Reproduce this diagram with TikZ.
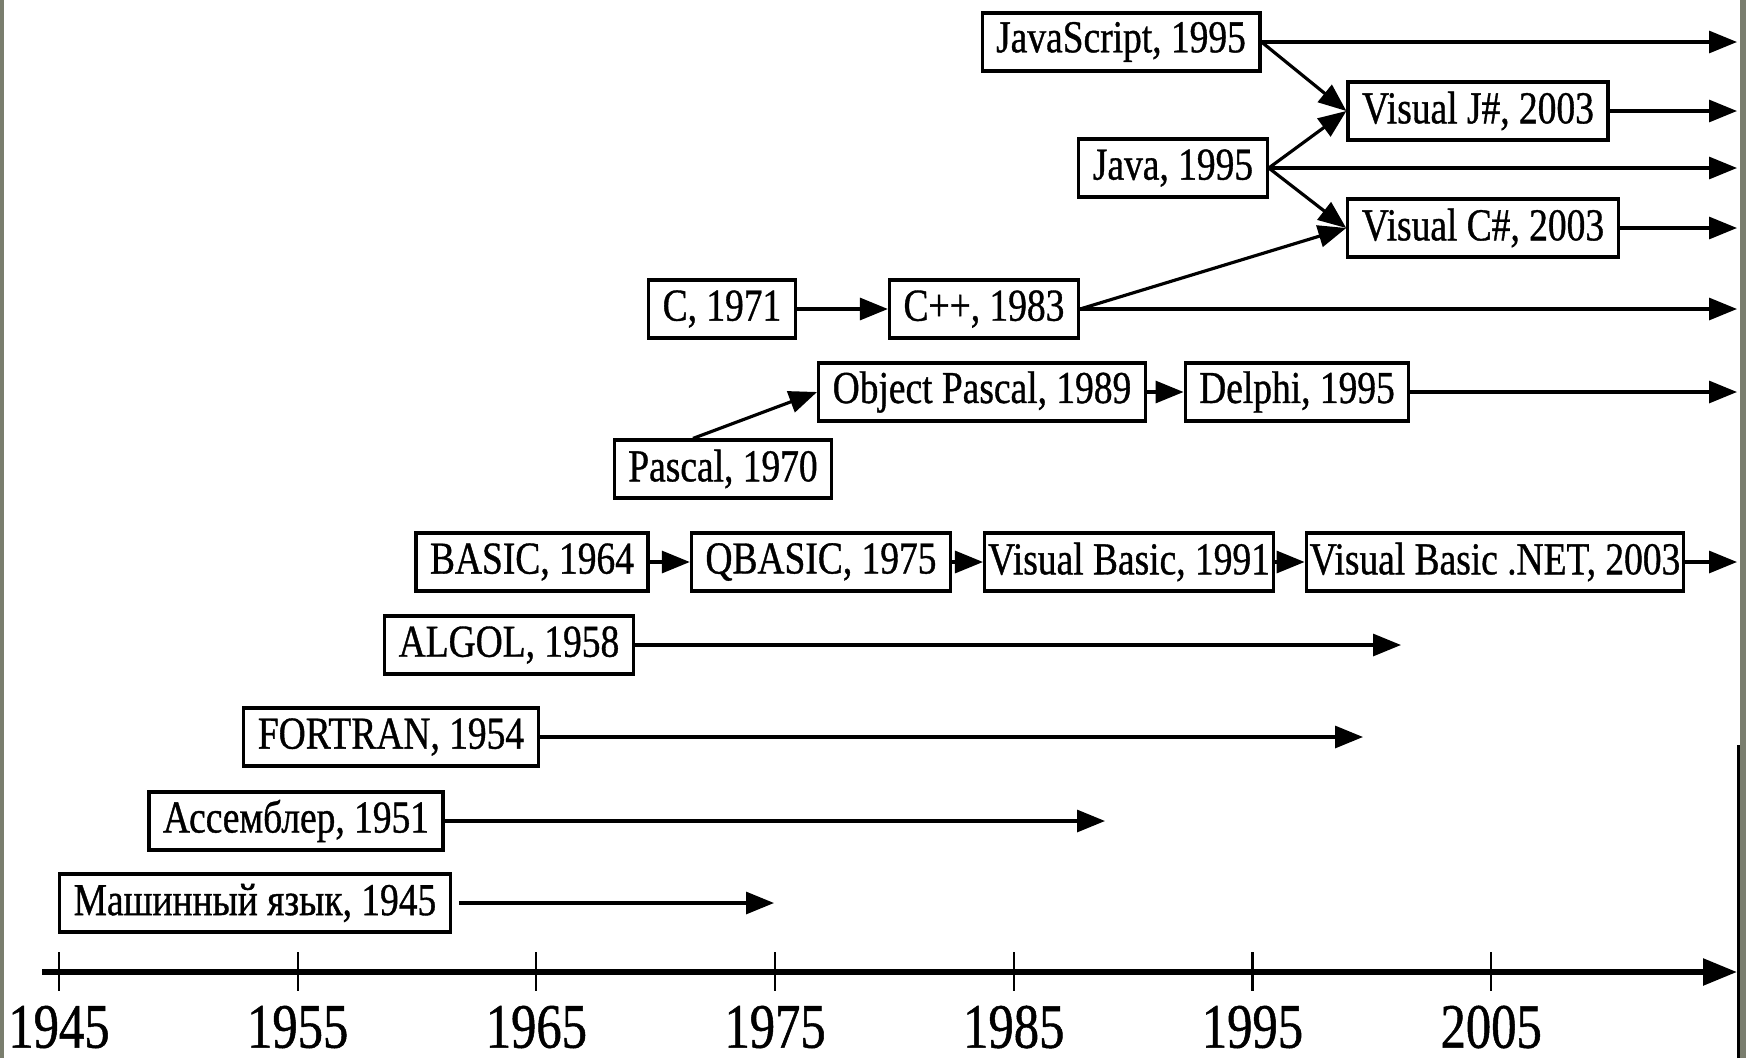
\documentclass[tikz,border=0pt]{standalone}
\usepackage{fontspec}
\setmainfont{Liberation Serif}
\newfontfamily\langfont{Liberation Serif}[FakeStretch=0.82, FakeBold=0.8]
\newfontfamily\yearfont{Liberation Serif}[FakeStretch=0.8, FakeBold=0.8]
\usetikzlibrary{arrows.meta}
\definecolor{scanedge}{RGB}{122, 126, 110}

\begin{document}
\begin{tikzpicture}[
    lang/.style={draw, line width=0.9pt, minimum height=0.58cm, inner xsep=4pt, inner ysep=1pt,
                 font=\langfont\fontsize{13}{15}\selectfont},
    link/.style={line width=0.9pt, -{Triangle[length=0.28cm, width=0.22cm]}},
    axisline/.style={line width=1.6pt, -{Triangle[length=0.34cm, width=0.26cm]}},
    tick/.style={line width=0.6pt},
    yearlbl/.style={font=\yearfont\fontsize{18}{20}\selectfont, inner sep=0pt}
  ]
  \useasboundingbox (0,0) rectangle (17.46,10.58);
  % scan edges
  \fill[scanedge] (0,0) rectangle (0.04,10.58);
  \fill[scanedge] (17.40,0) rectangle (17.46,10.58);
  \draw[line width=0.8pt] (17.385,0) -- (17.385,3.13);

  % right rim where the running lines end
  \coordinate (rim) at (17.37,0);

  % Languages
  \node[lang] (js)      at (11.21, 10.16) {JavaScript, 1995};
  \node[lang] (vj)      at (14.78, 9.47)  {Visual J\#, 2003};
  \node[lang] (java)    at (11.73, 8.90)  {Java, 1995};
  \node[lang] (vc)      at (14.83, 8.30)  {Visual C\#, 2003};
  \node[lang] (c)       at (7.22, 7.49)   {C, 1971};
  \node[lang] (cpp)     at (9.84, 7.49)   {C++, 1983};
  \node[lang] (opascal) at (9.82, 6.66)   {Object Pascal, 1989};
  \node[lang] (delphi)  at (12.97, 6.66)  {Delphi, 1995};
  \node[lang] (pascal)  at (7.23, 5.89)   {Pascal, 1970};
  \node[lang] (basic)   at (5.32, 4.96)   {BASIC, 1964};
  \node[lang] (qbasic)  at (8.21, 4.96)   {QBASIC, 1975};
  \node[lang, inner xsep=1pt] (vb)    at (11.29, 4.96) {Visual Basic, 1991};
  \node[lang, inner xsep=1pt] (vbnet) at (14.95, 4.96) {Visual Basic .NET, 2003};
  \node[lang] (algol)   at (5.09, 4.13)   {ALGOL, 1958};
  \node[lang] (fortran) at (3.91, 3.21)   {FORTRAN, 1954};
  \node[lang] (asm)     at (2.96, 2.37)   {Ассемблер, 1951};
  \node[lang] (mach)    at (2.55, 1.55)   {Машинный язык, 1945};

  % where the closed lines stop
  \coordinate (algolEnd)   at (14.01, 4.13);
  \coordinate (fortranEnd) at (13.63, 3.21);
  \coordinate (asmEnd)     at (11.05, 2.37);
  \coordinate (machEnd)    at (7.74, 1.55);

  % Successions
  \draw[link] (js.east) -- (js.east -| rim);
  \draw[link] (js.east) -- (vj.west);
  \draw[link] (vj.east) -- (vj.east -| rim);
  \draw[link] (java.east) -- (vj.west);
  \draw[link] (java.east) -- (java.east -| rim);
  \draw[link] (java.east) -- (vc.west);
  \draw[link] (vc.east) -- (vc.east -| rim);
  \draw[link] (c) -- (cpp);
  \draw[link] (cpp.east) -- (vc.west);
  \draw[link] (cpp.east) -- (cpp.east -| rim);
  \draw[link] ([xshift=-0.3cm]pascal.north) -- (opascal.west);
  \draw[link] (opascal) -- (delphi);
  \draw[link] (delphi.east) -- (delphi.east -| rim);
  \draw[link] (basic) -- (qbasic);
  \draw[link] (qbasic) -- (vb);
  \draw[link] (vb) -- (vbnet);
  \draw[link] (vbnet.east) -- (vbnet.east -| rim);
  \draw[link] (algol.east) -- (algolEnd);
  \draw[link] (fortran.east) -- (fortranEnd);
  \draw[link] (asm.east) -- (asmEnd);
  \draw[link, shorten <=2pt] (mach.east) -- (machEnd);

  % Time axis
  \coordinate (axisL) at (0.42, 0.86);
  \coordinate (axisR) at (17.37, 0.86);
  \draw[axisline] (axisL) -- (axisR);
  \foreach \yr [count=\i from 0] in {1945, 1955, 1965, 1975, 1985, 1995, 2005} {
    \draw[tick] (0.59+\i*2.387, 1.06) -- (0.59+\i*2.387, 0.67);
    \node[yearlbl] (y\yr) at (0.59+\i*2.387, 0.31) {\yr};
  }
\end{tikzpicture}
\end{document}
